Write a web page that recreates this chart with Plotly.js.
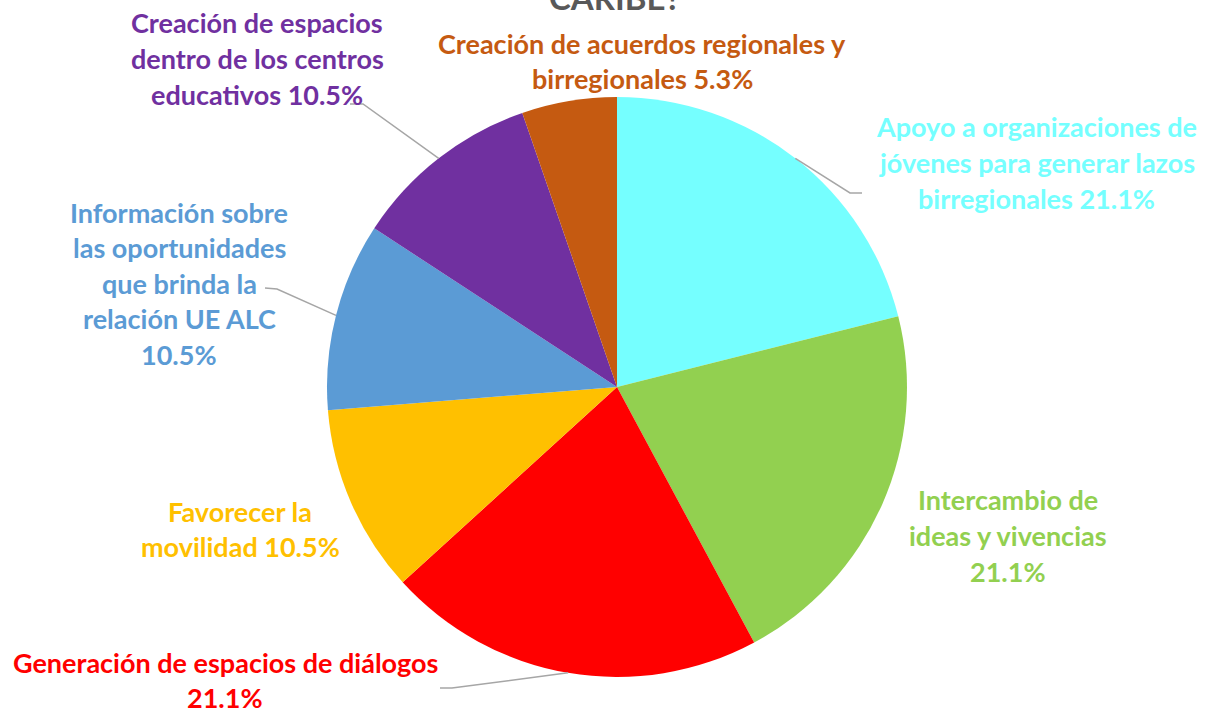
<!DOCTYPE html>
<html>
<head>
<meta charset="utf-8">
<script src="https://cdn.plot.ly/plotly-3.0.1.min.js"></script>
<style>html,body{margin:0;padding:0;background:#fff;}#chart{width:1212px;height:710px;}</style>
</head>
<body>
<div id="chart"></div>
<script>
// ---- data ----
const categories = [
  "Apoyo a organizaciones de jóvenes para generar lazos birregionales",
  "Intercambio de ideas y vivencias",
  "Generación de espacios de diálogos",
  "Favorecer la movilidad",
  "Información sobre las oportunidades que brinda la relación UE ALC",
  "Creación de espacios dentro de los centros educativos",
  "Creación de acuerdos regionales y birregionales"
];
const values = [21.1, 21.1, 21.1, 10.5, 10.5, 10.5, 5.3];
const colors = ["#75FFFF", "#92D050", "#FF0000", "#FFC000", "#5B9BD5", "#7030A0", "#C55A11"];
// wrapped label lines (percentage appended from values)
const labelLines = [
  ["Apoyo a organizaciones de", "jóvenes para generar lazos", "birregionales"],
  ["Intercambio de", "ideas y vivencias", ""],
  ["Generación de espacios de diálogos", ""],
  ["Favorecer la", "movilidad"],
  ["Información sobre", "las oportunidades", "que brinda la", "relación UE ALC", ""],
  ["Creación de espacios", "dentro de los centros", "educativos"],
  ["Creación de acuerdos regionales y", "birregionales"]
];
const titleText = "CARIBE?";

// ---- layout constants (pixels) ----
const W = 1212, H = 710;
const cx = 617, cy = 387, R = 290;
const labelPos = [[1036,127],[1008,500],[225,662],[240,511],[179,212],[257,23],[642,43]];
const lineGap = 35.5;
// leader elbows: [elbowX, elbowY, endX, endY] or null
const leaders = [[850,193,862,193], null, [452,688,440,688], null, [277,289,265,288], [363,104,350,104], null];

const px = x => x / W;
const py = y => 1 - y / H;
const font = "Lato, 'Open Sans', sans-serif";

const total = values.reduce((a,b)=>a+b,0);
const annotations = [];
const shapes = [];
let cum = 0;
values.forEach((v, i) => {
  const mid = (cum + v/2) / total * 2 * Math.PI;
  cum += v;
  const lines = labelLines[i].slice();
  const pct = v.toFixed(1) + "%";
  const last = lines.length - 1;
  lines[last] = lines[last] ? lines[last] + " " + pct : pct;
  lines.forEach((t, k) => {
    annotations.push({
      xref: "paper", yref: "paper",
      x: px(labelPos[i][0]), y: py(labelPos[i][1] + k*lineGap),
      xanchor: "center", yanchor: "middle",
      text: "<b>" + t + "</b>", showarrow: false,
      font: {family: font, size: 27, color: colors[i]}
    });
  });
  if (leaders[i]) {
    const ax = cx + R * Math.sin(mid), ay = cy - R * Math.cos(mid);
    const L = leaders[i];
    shapes.push({
      type: "path", xref: "paper", yref: "paper",
      path: `M ${px(ax)} ${py(ay)} L ${px(L[0])} ${py(L[1])} L ${px(L[2])} ${py(L[3])}`,
      line: {color: "#A6A6A6", width: 1.5}
    });
  }
});
annotations.push({
  xref: "paper", yref: "paper", x: px(615), y: py(-3),
  xanchor: "center", yanchor: "middle", showarrow: false,
  text: "<b>" + titleText + "</b>",
  font: {family: font, size: 33, color: "#595959"}
});

const trace = {
  type: "pie",
  labels: categories,
  values: values,
  sort: false,
  direction: "clockwise",
  rotation: 0,
  textinfo: "none",
  hoverinfo: "label+percent",
  marker: {colors: colors, line: {width: 0}},
  domain: {x: [px(cx - R), px(cx + R)], y: [py(cy + R), py(cy - R)]}
};

Plotly.newPlot("chart", [trace], {
  width: W, height: H,
  margin: {l: 0, r: 0, t: 0, b: 0},
  showlegend: false,
  paper_bgcolor: "#fff",
  annotations: annotations,
  shapes: shapes
}, {displayModeBar: false, staticPlot: true});
</script>
</body>
</html>
